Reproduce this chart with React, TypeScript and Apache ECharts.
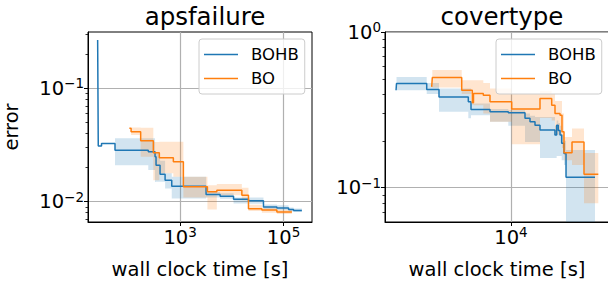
import React, { useEffect, useRef } from 'react';
import * as echarts from 'echarts';

// ---------- apsfailure ----------
const apsBohbTime = [25.5, 26.2, 30.3, 55.2, 243, 328, 343, 410, 513, 690, 3180, 5940, 10800, 21000, 40900, 74300, 125000, 156000, 226000];
const apsBohbErr = [0.267, 0.031, 0.0327, 0.0285, 0.0276, 0.0249, 0.021, 0.0175, 0.0155, 0.0137, 0.0116, 0.0112, 0.0105, 0.0102, 0.009, 0.0088, 0.00855, 0.00838, 0.00838];
const apsBohbLo = [0.267, 0.031, 0.0327, 0.021, 0.019, 0.0149, 0.015, 0.015, 0.0131, 0.0107, 0.0109, 0.0106, 0.00966, 0.0096, 0.00855, 0.0084, 0.0082, 0.0081, 0.0081];
const apsBohbHi = [0.267, 0.031, 0.0327, 0.0362, 0.0362, 0.0269, 0.0269, 0.023, 0.0178, 0.0166, 0.0122, 0.0119, 0.0109, 0.0109, 0.00946, 0.0093, 0.0089, 0.0087, 0.0087];

const apsBoTime = [104.5, 113, 173, 304, 397, 741, 1158, 3376, 5130, 15630, 20990, 38100, 74300, 145000];
const apsBoErr = [0.0444, 0.0414, 0.0345, 0.027, 0.0244, 0.0225, 0.01355, 0.01222, 0.01265, 0.01143, 0.00865, 0.00843, 0.0081, 0.0081];
const apsBoLo = [0.0444, 0.0387, 0.0249, 0.0155, 0.0178, 0.0166, 0.0109, 0.00855, 0.0114, 0.0103, 0.0083, 0.008, 0.0078, 0.0078];
const apsBoHi = [0.0444, 0.0451, 0.0449, 0.0336, 0.0338, 0.0338, 0.0166, 0.014, 0.0143, 0.0133, 0.0094, 0.0089, 0.0085, 0.0085];

// ---------- covertype ----------
const covBohbTime = [1510, 1521, 2500, 3060, 4955, 5180, 7080, 9565, 12590, 13670, 14840, 16110, 20600, 21190, 21760, 22390, 23010, 23910, 24720, 39810];
const covBohbErr = [0.423, 0.467, 0.427, 0.383, 0.356, 0.318, 0.307, 0.303, 0.279, 0.265, 0.252, 0.235, 0.218, 0.252, 0.233, 0.218, 0.193, 0.166, 0.1166, 0.1166];
const covBohbLo = [0.423, 0.423, 0.4, 0.307, 0.279, 0.292, 0.265, 0.25, 0.197, 0.197, 0.197, 0.155, 0.155, 0.16, 0.16, 0.16, 0.15, 0.14, 0.05, 0.1166];
const covBohbHi = [0.423, 0.515, 0.47, 0.434, 0.434, 0.3475, 0.32, 0.315, 0.3, 0.29, 0.285, 0.285, 0.25, 0.27, 0.26, 0.25, 0.22, 0.2, 0.1745, 0.1166];

const covBoTime = [2714, 2741, 4446, 5291, 5396, 6341, 7079, 10116, 16110, 19530, 20620, 22390, 23130, 23910, 27280, 33220, 42030];
const covBoErr = [0.444, 0.51, 0.423, 0.351, 0.403, 0.393, 0.356, 0.32, 0.374, 0.339, 0.3, 0.292, 0.229, 0.168, 0.197, 0.122, 0.122];
const covBoLo = [0.444, 0.44, 0.4, 0.34, 0.339, 0.3, 0.265, 0.19, 0.28, 0.27, 0.22, 0.22, 0.18, 0.15, 0.14, 0.0794, 0.122];
const covBoHi = [0.444, 0.57, 0.49, 0.49, 0.49, 0.47, 0.434, 0.4, 0.42, 0.4, 0.36, 0.36, 0.3, 0.212, 0.24, 0.167, 0.122];

// ---------- axes ----------
const titles = ['apsfailure', 'covertype'];
const seriesNames = ['BOHB', 'BO'];
const apsXRange = [Math.pow(10, 1.22), Math.pow(10, 5.55)];
const apsYRange = [Math.pow(10, -2.179), Math.pow(10, -0.503)];
const covXRange = [Math.pow(10, 3.1), Math.pow(10, 4.7)];
const covYRange = [Math.pow(10, -1.22), 1];
const apsXTicks = [1e3, 1e5];
const apsYTicks = [1e-2, 1e-1];
const apsYMinor = [0.007, 0.008, 0.009, 0.02, 0.03, 0.04, 0.05, 0.06, 0.07, 0.08, 0.09, 0.2, 0.3];
const covXTicks = [1e4];
const covYTicks = [1e-1, 1];
const covYMinor = [0.07, 0.08, 0.09, 0.2, 0.3, 0.4, 0.5, 0.6, 0.7, 0.8, 0.9];

const FONT = 'DejaVu Sans';
const BLUE = '#1f77b4';
const ORANGE = '#ff7f0e';
const LABEL_SIZE = 19.5;

function supLabel(v: number) {
  const e = Math.round(Math.log10(v));
  const s = (e < 0 ? '\u2212' : '') + Math.abs(e);
  return `{b|10}{s|${s}}`;
}

const rich = {
  b: { fontSize: LABEL_SIZE, fontFamily: FONT, color: '#000', lineHeight: 24 },
  s: { fontSize: 13.5, fontFamily: FONT, color: '#000', lineHeight: 15, verticalAlign: 'top' },
};

function xAxisCfg(gridIndex: number, range: number[], ticks: number[]) {
  return {
    type: 'log',
    gridIndex,
    min: range[0],
    max: range[1],
    axisLine: { show: true, lineStyle: { color: '#000', width: 1 } },
    axisTick: { show: true, length: 4, lineStyle: { color: '#000', width: 1 }, customValues: ticks },
    axisLabel: { customValues: ticks, formatter: supLabel, rich, margin: 3, fontSize: LABEL_SIZE, fontFamily: FONT, color: '#000' },
    splitLine: { show: true, lineStyle: { color: '#b0b0b0', width: 1.2 } },
    name: 'wall clock time [s]',
    nameLocation: 'middle',
    nameGap: 37,
    nameTextStyle: { fontSize: LABEL_SIZE, fontFamily: FONT, color: '#000' },
  };
}

function yAxisCfg(gridIndex: number, range: number[], ticks: number[], name: string) {
  return {
    type: 'log',
    gridIndex,
    position: 'left',
    min: range[0],
    max: range[1],
    axisLine: { show: true, lineStyle: { color: '#000', width: 1 } },
    axisTick: { show: true, length: 4, lineStyle: { color: '#000', width: 1 }, customValues: ticks },
    axisLabel: { customValues: ticks, formatter: supLabel, rich, margin: 4, fontSize: LABEL_SIZE, fontFamily: FONT, color: '#000' },
    splitLine: { show: true, lineStyle: { color: '#b0b0b0', width: 1.2 } },
    name,
    nameLocation: 'middle',
    nameGap: 67,
    nameRotate: 90,
    nameTextStyle: { fontSize: LABEL_SIZE, fontFamily: FONT, color: '#000' },
  };
}

function yMinorCfg(gridIndex: number, range: number[], ticks: number[]) {
  return {
    type: 'log',
    gridIndex,
    position: 'left',
    offset: 0,
    min: range[0],
    max: range[1],
    axisLine: { show: false },
    axisTick: { show: true, length: 2.5, lineStyle: { color: '#000', width: 0.8 }, customValues: ticks },
    axisLabel: { show: false },
    splitLine: { show: false },
  };
}

function lineSeries(name: string, xs: number[], ys: number[], color: string, idx: number) {
  return {
    type: 'line',
    name,
    xAxisIndex: idx,
    yAxisIndex: idx,
    step: 'end',
    symbol: 'none',
    showSymbol: false,
    z: 3,
    lineStyle: { color, width: 1.5 },
    itemStyle: { color },
    data: xs.map((x, i) => [x, ys[i]]),
  };
}

function bandSeries(xs: number[], lo: number[], hi: number[], color: string, idx: number, yMin: number) {
  const data = xs.slice(0, -1).map((x, i) => [x, xs[i + 1], lo[i], hi[i]]);
  return {
    type: 'custom',
    xAxisIndex: idx,
    yAxisIndex: idx,
    silent: true,
    z: 1,
    encode: { x: [0, 1], y: [2, 3] },
    data,
    renderItem: (params: any, api: any) => {
      if (params.dataIndex !== 0) return null;
      const top: number[][] = [];
      const bot: number[][] = [];
      data.forEach(([x0, x1, l, h]) => {
        const lc = Math.max(l, yMin);
        top.push(api.coord([x0, h]), api.coord([x1, h]));
        bot.push(api.coord([x0, lc]), api.coord([x1, lc]));
      });
      return {
        type: 'polygon',
        shape: { points: top.concat(bot.reverse()) },
        style: { fill: color, opacity: 0.2 },
      };
    },
  };
}

function legendCfg(left: number) {
  return {
    data: seriesNames,
    left,
    top: 39,
    orient: 'vertical',
    icon: 'rect',
    itemWidth: 34,
    itemHeight: 1.5,
    itemGap: 5,
    padding: [6, 6, 6, 5],
    backgroundColor: 'rgba(255,255,255,0.8)',
    borderColor: '#cccccc',
    borderWidth: 1,
    borderRadius: 3,
    selectedMode: false,
    textStyle: { fontSize: 16.5, fontFamily: FONT, color: '#000', lineHeight: 19, padding: [0, 0, 0, 8] },
  };
}

export default function App() {
  const ref = useRef<HTMLDivElement>(null);
  useEffect(() => {
    if (!ref.current) return;
    const chart = echarts.init(ref.current, null, { renderer: 'svg', width: 608, height: 286 });
    const gridBase = { top: 32, width: 224, height: 190, show: true, borderColor: '#000', borderWidth: 1, backgroundColor: 'transparent', containLabel: false, outerBoundsMode: 'none' };
    chart.setOption({
      animation: false,
      textStyle: { fontFamily: FONT },
      title: [
        { text: titles[0], left: 200, top: -1, textAlign: 'center', textStyle: { fontSize: 24.5, fontWeight: 'normal', fontFamily: FONT, color: '#000' } },
        { text: titles[1], left: 497, top: -1, textAlign: 'center', textStyle: { fontSize: 24.5, fontWeight: 'normal', fontFamily: FONT, color: '#000' } },
      ],
      legend: [legendCfg(199), legendCfg(496)],
      grid: [
        { ...gridBase, left: 88 },
        { ...gridBase, left: 385 },
      ],
      xAxis: [xAxisCfg(0, apsXRange, apsXTicks), xAxisCfg(1, covXRange, covXTicks)],
      yAxis: [
        yAxisCfg(0, apsYRange, apsYTicks, 'error'),
        yAxisCfg(1, covYRange, covYTicks, ''),
        yMinorCfg(0, apsYRange, apsYMinor),
        yMinorCfg(1, covYRange, covYMinor),
      ],
      series: [
        bandSeries(apsBohbTime, apsBohbLo, apsBohbHi, BLUE, 0, apsYRange[0]),
        bandSeries(apsBoTime, apsBoLo, apsBoHi, ORANGE, 0, apsYRange[0]),
        lineSeries(seriesNames[0], apsBohbTime, apsBohbErr, BLUE, 0),
        lineSeries(seriesNames[1], apsBoTime, apsBoErr, ORANGE, 0),
        bandSeries(covBohbTime, covBohbLo, covBohbHi, BLUE, 1, covYRange[0]),
        bandSeries(covBoTime, covBoLo, covBoHi, ORANGE, 1, covYRange[0]),
        lineSeries(seriesNames[0], covBohbTime, covBohbErr, BLUE, 1),
        lineSeries(seriesNames[1], covBoTime, covBoErr, ORANGE, 1),
      ],
    });
    return () => chart.dispose();
  }, []);
  return <div ref={ref} style={{ position: 'absolute', left: 0, top: 0, width: 608, height: 286 }} />;
}
